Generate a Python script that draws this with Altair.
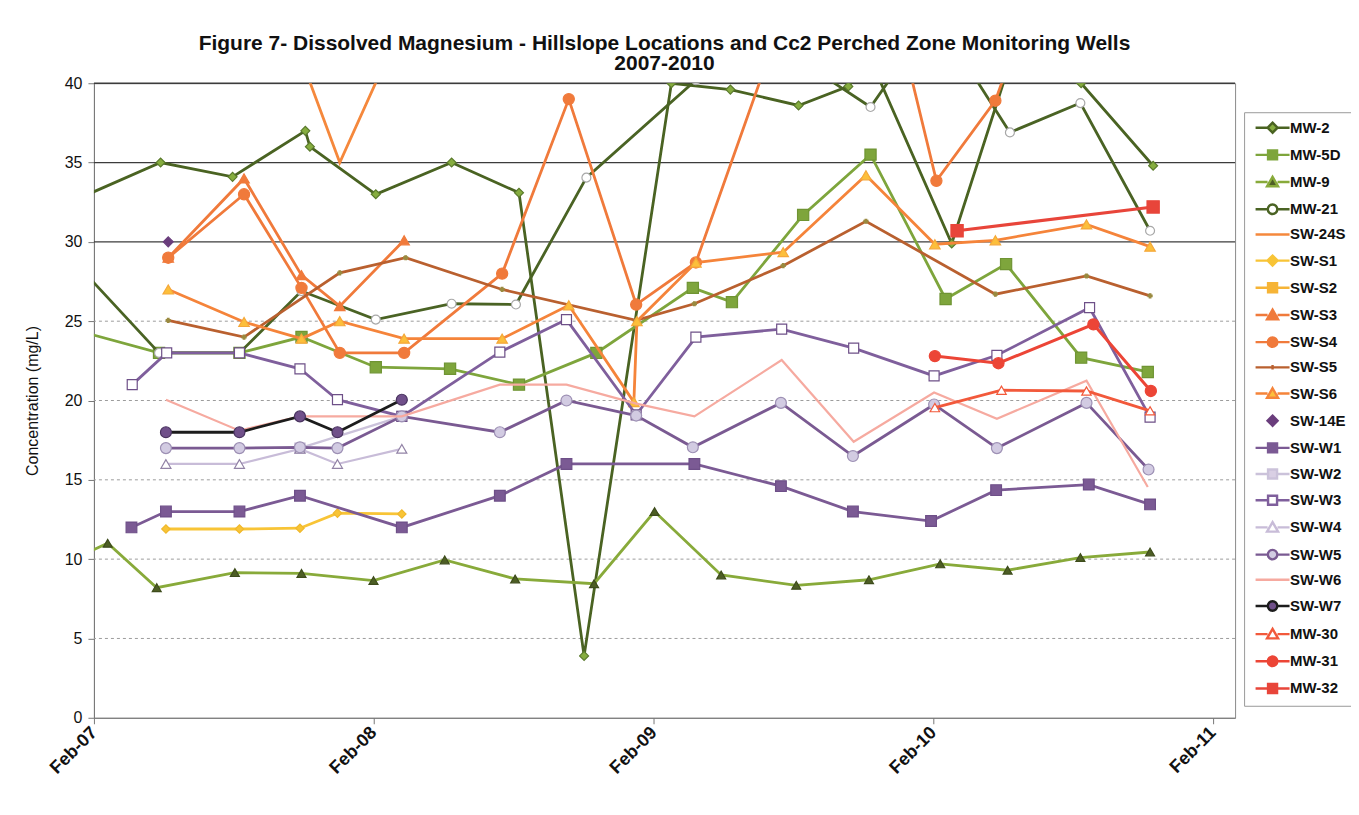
import altair as alt
import pandas as pd

# ---------------- text ----------------
TITLE_LINES = ["Figure 7- Dissolved Magnesium - Hillslope Locations and Cc2 Perched Zone Monitoring Wells",
               "2007-2010"]
Y_TITLE = "Concentration (mg/L)"
X_TICK_YEARS = [2007, 2008, 2009, 2010, 2011]
Y_TICKS = [0, 5, 10, 15, 20, 25, 30, 35, 40]
GRID_SOLID = [30, 35, 40]
GRID_DOTTED = [5, 10, 15, 20, 25]

SERIES = ["MW-2", "MW-5D", "MW-9", "MW-21", "SW-24S", "SW-S1", "SW-S2", "SW-S3", "SW-S4",
          "SW-S5", "SW-S6", "SW-14E", "SW-W1", "SW-W2", "SW-W3", "SW-W4", "SW-W5", "SW-W6",
          "SW-W7", "MW-30", "MW-31", "MW-32"]

# ---------------- data ----------------
MW2_DATES = ["2006-12-27", "2007-04-29", "2007-08-01", "2007-11-04", "2007-11-10", "2008-02-04",
             "2008-05-13", "2008-08-09", "2008-11-02", "2009-02-24", "2009-05-12", "2009-08-09",
             "2009-10-13", "2009-11-11", "2010-02-25", "2010-05-10", "2010-08-13", "2010-11-15"]
MW2_VALUES = [32.4, 35.0, 34.1, 37.0, 36.0, 33.0, 35.0, 33.1, 3.9, 40.0, 39.6, 38.6,
              39.8, 41.5, 29.9, 41.0, 40.0, 34.8]

MW5D_DATES = ["2006-12-27", "2007-04-27", "2007-08-10", "2007-10-30", "2008-02-04", "2008-05-11",
              "2008-08-09", "2008-11-18", "2009-03-24", "2009-05-14", "2009-08-15", "2009-11-11",
              "2010-02-17", "2010-05-07", "2010-08-13", "2010-11-08"]
MW5D_VALUES = [24.6, 23.0, 23.0, 24.0, 22.1, 22.0, 21.0, 23.0, 27.1, 26.2, 31.7, 35.5,
               26.4, 28.6, 22.7, 21.8]

MW9_DATES = ["2006-12-27", "2007-02-19", "2007-04-24", "2007-08-04", "2007-10-30", "2008-02-01",
             "2008-05-04", "2008-08-04", "2008-11-15", "2009-02-02", "2009-04-30", "2009-08-06",
             "2009-11-09", "2010-02-10", "2010-05-09", "2010-08-12", "2010-11-11"]
MW9_VALUES = [9.8, 11.0, 8.2, 9.15, 9.1, 8.65, 9.95, 8.75, 8.45, 13.0, 9.0, 8.35,
              8.7, 9.7, 9.3, 10.1, 10.45]

MW21_DATES = ["2006-12-27", "2007-04-27", "2007-08-10", "2007-10-30", "2008-02-04", "2008-05-13",
              "2008-08-05", "2008-11-05", "2009-03-28", "2009-08-09", "2009-11-11", "2010-02-03",
              "2010-05-12", "2010-08-12", "2010-11-11"]
MW21_VALUES = [29.3, 23.0, 23.0, 26.9, 25.1, 26.1, 26.05, 34.05, 40.2, 41.5, 38.5, 44.3,
               36.9, 38.75, 30.7]

SW24S_DATES = ["2007-10-30", "2007-12-19", "2008-03-12"]
SW24S_VALUES = [41.5, 35.0, 44.0]

SWS1_DATES = ["2007-05-06", "2007-08-10", "2007-10-28", "2007-12-16", "2008-03-09"]
SWS1_VALUES = [11.9, 11.9, 11.95, 12.9, 12.85]

SWS2_DATES = []
SWS2_VALUES = []

SWS3_DATES = ["2007-05-09", "2007-08-16", "2007-10-30", "2007-12-19", "2008-03-12"]
SWS3_VALUES = [29.0, 34.0, 27.9, 25.95, 30.1]

SWS4_DATES = ["2007-05-09", "2007-08-16", "2007-10-30", "2007-12-19", "2008-03-12", "2008-07-18",
              "2008-10-13", "2009-01-09", "2009-03-28", "2009-08-09", "2009-11-11", "2010-02-05",
              "2010-04-23", "2010-08-20"]
SWS4_VALUES = [29.0, 33.0, 27.1, 23.0, 23.0, 28.0, 39.0, 26.05, 28.7, 47.0, 51.0, 33.85,
               38.9, 55.0]

SWS5_DATES = ["2007-05-09", "2007-08-16", "2007-12-19", "2008-03-14", "2008-07-18", "2009-01-09",
              "2009-03-26", "2009-07-20", "2009-11-05", "2010-04-23", "2010-08-20", "2010-11-11"]
SWS5_VALUES = [25.05, 24.0, 28.05, 29.0, 27.0, 25.05, 26.1, 28.5, 31.3, 26.7, 27.85, 26.6]

SWS6_DATES = ["2007-05-09", "2007-08-16", "2007-10-30", "2007-12-19", "2008-03-12", "2008-07-18",
              "2008-10-13", "2009-01-06", "2009-01-10", "2009-03-28", "2009-07-20", "2009-11-05",
              "2010-02-03", "2010-04-23", "2010-08-20", "2010-11-11"]
SWS6_VALUES = [27.0, 24.95, 23.9, 25.0, 23.9, 23.9, 26.0, 19.9, 25.0, 28.7, 29.35, 34.2,
               29.85, 30.1, 31.1, 29.7]

SW14E_DATES = ["2007-05-09"]
SW14E_VALUES = [30.0]

SWW1_DATES = ["2007-03-22", "2007-05-06", "2007-08-10", "2007-10-28", "2008-03-09", "2008-07-15",
              "2008-10-10", "2009-03-26", "2009-07-17", "2009-10-19", "2010-01-29", "2010-04-24",
              "2010-08-23", "2010-11-11"]
SWW1_VALUES = [12.0, 13.0, 13.0, 14.0, 12.0, 14.0, 16.0, 16.0, 14.6, 13.0, 12.4, 14.35,
               14.7, 13.45]

SWW2_DATES = ["2007-10-28", "2008-03-09"]
SWW2_VALUES = [17.0, 19.0]

SWW3_DATES = ["2007-03-23", "2007-05-07", "2007-08-10", "2007-10-28", "2007-12-16", "2008-03-09",
              "2008-07-15", "2008-10-10", "2009-01-09", "2009-03-28", "2009-07-18", "2009-10-20",
              "2010-02-02", "2010-04-25", "2010-08-24", "2010-11-11"]
SWW3_VALUES = [21.0, 23.0, 23.0, 22.0, 20.05, 19.0, 23.05, 25.1, 19.1, 24.0, 24.5, 23.3,
               21.55, 22.85, 25.85, 18.95]

SWW4_DATES = ["2007-05-06", "2007-08-10", "2007-10-28", "2007-12-16", "2008-03-09"]
SWW4_VALUES = [16.0, 16.0, 16.95, 16.0, 16.95]

SWW5_DATES = ["2007-05-06", "2007-08-10", "2007-10-28", "2007-12-16", "2008-03-09", "2008-07-15",
              "2008-10-10", "2009-01-09", "2009-03-24", "2009-07-17", "2009-10-19", "2010-02-02",
              "2010-04-25", "2010-08-20", "2010-11-09"]
SWW5_VALUES = [17.0, 17.0, 17.05, 17.0, 19.0, 18.0, 20.0, 19.05, 17.05, 19.85, 16.5, 19.75,
               17.0, 19.85, 15.65]

SWW6_DATES = ["2007-05-06", "2007-08-10", "2007-10-28", "2007-12-16", "2008-03-09", "2008-07-15",
              "2008-10-10", "2009-01-09", "2009-03-26", "2009-07-18", "2009-10-20", "2010-02-02",
              "2010-04-25", "2010-08-20", "2010-11-08"]
SWW6_VALUES = [20.05, 18.1, 19.0, 19.0, 19.0, 21.0, 21.0, 19.8, 19.0, 22.55, 17.4, 20.5,
               18.85, 21.25, 14.55]

SWW7_DATES = ["2007-05-06", "2007-08-10", "2007-10-28", "2007-12-16", "2008-03-09"]
SWW7_VALUES = [18.0, 18.0, 19.0, 18.0, 20.05]

MW30_DATES = ["2010-02-03", "2010-05-01", "2010-08-20", "2010-11-11"]
MW30_VALUES = [19.55, 20.65, 20.6, 19.35]

MW31_DATES = ["2010-02-03", "2010-04-27", "2010-08-29", "2010-11-12"]
MW31_VALUES = [22.8, 22.35, 24.8, 20.6]

MW32_DATES = ["2010-03-04", "2010-11-15"]
MW32_VALUES = [30.7, 32.2]

DATA = {
    "MW-2": (MW2_DATES, MW2_VALUES), "MW-5D": (MW5D_DATES, MW5D_VALUES),
    "MW-9": (MW9_DATES, MW9_VALUES), "MW-21": (MW21_DATES, MW21_VALUES),
    "SW-24S": (SW24S_DATES, SW24S_VALUES), "SW-S1": (SWS1_DATES, SWS1_VALUES),
    "SW-S2": (SWS2_DATES, SWS2_VALUES), "SW-S3": (SWS3_DATES, SWS3_VALUES),
    "SW-S4": (SWS4_DATES, SWS4_VALUES), "SW-S5": (SWS5_DATES, SWS5_VALUES),
    "SW-S6": (SWS6_DATES, SWS6_VALUES), "SW-14E": (SW14E_DATES, SW14E_VALUES),
    "SW-W1": (SWW1_DATES, SWW1_VALUES), "SW-W2": (SWW2_DATES, SWW2_VALUES),
    "SW-W3": (SWW3_DATES, SWW3_VALUES), "SW-W4": (SWW4_DATES, SWW4_VALUES),
    "SW-W5": (SWW5_DATES, SWW5_VALUES), "SW-W6": (SWW6_DATES, SWW6_VALUES),
    "SW-W7": (SWW7_DATES, SWW7_VALUES), "MW-30": (MW30_DATES, MW30_VALUES),
    "MW-31": (MW31_DATES, MW31_VALUES), "MW-32": (MW32_DATES, MW32_VALUES),
}

# ---------------- styles ----------------
# line colour, line width (0 = no line), marker shape (None = no marker), fill, stroke, size
STYLE = {
    "MW-2":   ("#4a6322", 2.8, "diamond", "#86ad3f", "#5a7a2c", 80),
    "MW-5D":  ("#7ea53c", 2.8, "square", "#7ea53c", "#6f9433", 125),
    "MW-9":   ("#88aa3a", 2.8, "triangle-up", "#4d5e24", "#3e4c1c", 80),
    "MW-21":  ("#4a6324", 2.8, "circle", "#ffffff", "#a8a8a8", 80),
    "SW-24S": ("#f5883c", 2.8, None, None, None, 0),
    "SW-S1":  ("#f8c436", 2.8, "diamond", "#f8c436", "#f0b82c", 70),
    "SW-S2":  ("#f6b436", 2.8, "square", "#f6b436", "#f6b436", 110),
    "SW-S3":  ("#f07a3b", 2.8, "triangle-up", "#f07a3b", "#f07a3b", 110),
    "SW-S4":  ("#f07a3b", 2.8, "circle", "#f07a3b", "#f07a3b", 125),
    "SW-S5":  ("#b9602f", 2.8, "cross", "#9a8a40", "#9a8a40", 16),
    "SW-S6":  ("#f5843a", 2.8, "triangle-up", "#fcbf3b", "#f5a83a", 110),
    "SW-14E": (None, 0, "diamond", "#6a3d7c", "#6a3d7c", 100),
    "SW-W1":  ("#7b5a94", 2.8, "square", "#7b5a94", "#6e4f88", 115),
    "SW-W2":  ("#cbc2da", 2.2, "square", "#d9cfe4", "#bdb0cf", 100),
    "SW-W3":  ("#7f5f9c", 2.8, "square", "#ffffff", "#6e5088", 100),
    "SW-W4":  ("#c8bcd8", 2.2, "triangle-up", "#ffffff", "#9283a6", 100),
    "SW-W5":  ("#7a5a92", 2.8, "circle", "#d2cbe2", "#9d90b4", 120),
    "SW-W6":  ("#f6aaa0", 2.2, None, None, None, 0),
    "SW-W7":  ("#1c1c1c", 2.8, "circle", "#70508a", "#4a3460", 120),
    "MW-30":  ("#f2593b", 2.8, "triangle-up", "#ffffff", "#f2593b", 90),
    "MW-31":  ("#ec4536", 3.0, "circle", "#ec4536", "#ec4536", 125),
    "MW-32":  ("#e8453a", 3.0, "square", "#e8453a", "#e8453a", 150),
}

# legend glyphs: short line plus marker (unit = sqrt(symbolSize)/2)
MARKER_PATHS = {
    "diamond": "M0,-1L1,0L0,1L-1,0Z",
    "square": "M-0.9,-0.9H0.9V0.9H-0.9Z",
    "triangle-up": "M0,-1.05L1.1,0.85H-1.1Z",
    "circle": "M-0.95,0A0.95,0.95 0 1,0 0.95,0A0.95,0.95 0 1,0 -0.95,0Z",
    "cross": "M-0.45,0H0.45M0,-0.45V0.45",
}


def legend_path(name):
    line_c, lw, shape, fill, stroke, size = STYLE[name]
    parts = []
    if lw > 0:
        if shape is None or shape == "cross":
            parts.append("M-3.4,0H3.4")
        else:
            parts.append("M-3.4,0H-1M1,0H3.4")
    if shape is not None:
        parts.append(MARKER_PATHS[shape])
    return "".join(parts)


def legend_stroke(name):
    line_c, lw, shape, fill, stroke, size = STYLE[name]
    return line_c if line_c else stroke


def legend_fill(name):
    line_c, lw, shape, fill, stroke, size = STYLE[name]
    return fill if fill else "#ffffff"


# ---------------- encodings ----------------
x_enc = alt.X(
    "date:T",
    scale=alt.Scale(type="utc",
                    domain=[alt.DateTime(year=2007, month=2, date=1, utc=True),
                            alt.DateTime(year=2011, month=3, date=2, utc=True)]),
    axis=alt.Axis(values=[alt.DateTime(year=y, month=2, date=1, utc=True) for y in X_TICK_YEARS],
                  labelExpr="utcFormat(datum.value, '%b-%y')", labelAngle=315, labelAlign="right",
                  labelBaseline="middle", labelFontSize=18, labelFontWeight="bold",
                  labelColor="#111111", labelPadding=6, tickSize=6, tickColor="#777777",
                  domainColor="#777777", title=None, grid=False, labelOverlap=False),
)
y_enc = alt.Y(
    "value:Q",
    scale=alt.Scale(domain=[0, 40], nice=False, zero=False),
    axis=alt.Axis(values=Y_TICKS, labelFontSize=16, labelColor="#111111", tickSize=6,
                  tickColor="#777777", domainColor="#777777", labelPadding=6,
                  title=Y_TITLE, titleFontSize=16, titleFontWeight="normal",
                  titleColor="#111111", titlePadding=24, grid=False),
)

layers = []
layers.append(alt.Chart(pd.DataFrame({"value": GRID_DOTTED})).mark_rule(
    color="#9c9c9c", strokeWidth=1, strokeDash=[3, 3]).encode(y=y_enc))
layers.append(alt.Chart(pd.DataFrame({"value": GRID_SOLID})).mark_rule(
    color="#3c3c3c", strokeWidth=1.3).encode(y=y_enc))

for name in SERIES:
    dates, values = DATA[name]
    if not dates:
        continue
    df = pd.DataFrame({"date": dates, "value": values})
    line_c, lw, shape, fill, stroke, size = STYLE[name]
    if lw > 0 and len(dates) > 1:
        layers.append(alt.Chart(df).mark_line(color=line_c, strokeWidth=lw, clip=True)
                      .encode(x=x_enc, y=y_enc))
    if shape is not None:
        layers.append(alt.Chart(df).mark_point(shape=shape, filled=True, fill=fill,
                                               stroke=stroke, strokeWidth=1.2, size=size,
                                               opacity=1, clip=True)
                      .encode(x=x_enc, y=y_enc))

legend = alt.Legend(title=None, orient="none", legendX=1151, legendY=29, direction="vertical",
                    symbolSize=100, symbolStrokeWidth=2.4, labelFontSize=15,
                    labelFontWeight="bold", labelFont="Liberation Sans", labelColor="#111111",
                    labelOffset=10, symbolOffset=13, rowPadding=7.2, padding=8,
                    strokeColor="#9a9a9a", fillColor="#ffffff", labelLimit=200)

legend_df = pd.DataFrame({"series": SERIES})
legend_layer = alt.Chart(legend_df).transform_filter("datum.series == '__none__'").mark_point(
    filled=True, opacity=1).encode(
    shape=alt.Shape("series:N", scale=alt.Scale(domain=SERIES, range=[legend_path(n) for n in SERIES]),
                    legend=legend),
    fill=alt.Fill("series:N", scale=alt.Scale(domain=SERIES, range=[legend_fill(n) for n in SERIES]),
                  legend=legend),
    stroke=alt.Stroke("series:N", scale=alt.Scale(domain=SERIES, range=[legend_stroke(n) for n in SERIES]),
                      legend=legend),
)
layers.append(legend_layer)

chart = alt.layer(*layers).properties(
    width=1142, height=635,
    autosize=alt.AutoSizeParams(type="none"),
    padding={"left": 86, "top": 75, "right": 116, "bottom": 90},
    title=alt.TitleParams(text=TITLE_LINES, fontSize=21, fontWeight="bold", font="Liberation Sans",
                          anchor="middle", offset=1, lineHeight=20.5, color="#111111"),
).configure_view(stroke="#8a8a8a", strokeWidth=1).configure_axis(
    labelFont="Liberation Sans", titleFont="Liberation Sans")

chart.save("out.html", embed_options={"renderer": "svg", "actions": False})
